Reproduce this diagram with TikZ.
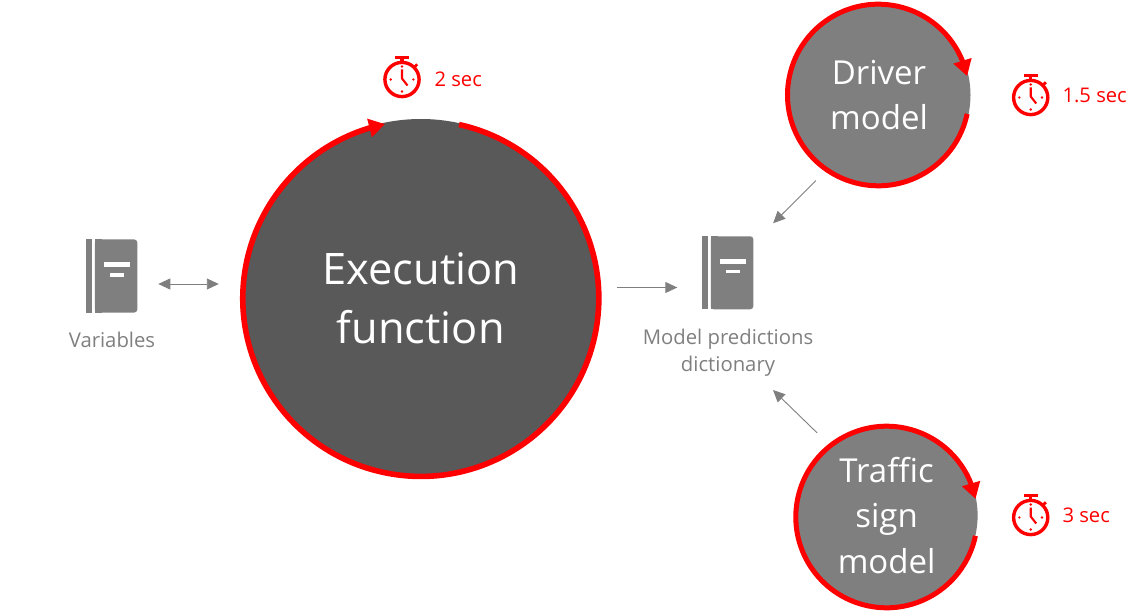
\documentclass[tikz,border=0pt]{standalone}
\usepackage{fontspec}
\setmainfont{Open Sans}
\usetikzlibrary{arrows.meta,bending,calc}
\definecolor{midgray}{HTML}{7F7F7F}
\definecolor{darkgray}{HTML}{595959}
\definecolor{timered}{HTML}{FF0000}
\tikzset{
  x=1pt,y=-1pt,
  model/.style={circle,fill=midgray,text=white,inner sep=0pt,outer sep=0pt,align=center,font=\fontsize{33}{45.5}\selectfont},
  execmodel/.style={model,fill=darkgray,font=\fontsize{43.4}{59}\selectfont},
  ring/.style={draw=timered,line width=5pt,-{Triangle[length=16pt,width=18pt,flex=1]}},
  conn/.style={draw=midgray,line width=0.9pt,-{Triangle[length=12pt,width=11pt]}},
  connboth/.style={conn,{Triangle[length=12pt,width=11pt]}-{Triangle[length=12pt,width=11pt]}},
  bookbox/.style={rectangle,minimum width=51pt,minimum height=73pt,inner sep=0pt,outer sep=0pt},
  lbl/.style={text=midgray,align=center,font=\fontsize{20.3}{27}\selectfont},
  timelbl/.style={text=timered,anchor=west,font=\fontsize{20.2}{24}\selectfont},
  book/.pic={
    \fill[midgray] (-25.5,-36.5) rectangle (-20,36.5);
    \fill[midgray,rounded corners=3pt] (-17,-36.5) -- (25.5,-36.5) -- (25.5,36.5) -- (-17,36.5) -- cycle;
    \fill[midgray] (-17,-36.5) rectangle (-10,36.5);
    \fill[white] (-8,-14) rectangle (18,-9);
    \fill[white] (-1.5,-3) rectangle (12.5,0.5);
  },
  stopwatch/.pic={
    \draw[timered,line width=3.4pt] (0,0) circle[radius=17.1];
    \fill[timered] (-7,-23.8) rectangle (7,-20.2);
    \fill[timered] (-1.6,-21) rectangle (1.6,-17);
    \draw[timered,line width=2.8pt] (12.5,-12.5) -- (15.2,-15.2);
    \draw[timered,line width=2.1pt,line join=round] (0,-10) -- (0,-1) -- (5.5,6);
    \foreach \p in {(0,-13),(11.3,0),(0,12),(-11.3,0)} \fill[timered] \p circle[radius=1.3];
  }
}
\begin{document}
\begin{tikzpicture}
\useasboundingbox (0,0) rectangle (1142,612);
% model circles
\node[execmodel,minimum size=358pt] (ex) at (420.8,298) {Execution\\function};
\node[model,minimum size=183pt] (driver) at (879,95) {Driver\\model};
\node[model,minimum size=182pt] (traffic) at (886.6,515.5) {Traffic\\sign\\model};
% timer rings
\coordinate (exc) at (420.8,298.4);
\coordinate (drc) at (878.3,95);
\coordinate (trc) at (886.6,517);
\draw[ring,line width=5.6pt] ($(exc)+(77.6:178pt)$) arc[start angle=77.6,end angle=-258.4,radius=178pt];
\draw[ring] ($(drc)+(-12:90.8pt)$) arc[start angle=-12,end angle=-348,radius=90.8pt];
\draw[ring] ($(trc)+(-12:90.8pt)$) arc[start angle=-12,end angle=-348.5,radius=90.8pt];
% dictionaries
\node[bookbox] (varbook) at (111.8,276) {};
\pic at (varbook.center) {book};
\node[bookbox] (dict) at (727.8,272.8) {};
\pic at (dict.center) {book};
\node[lbl] (varlabel) at (112,339.5) {Variables};
\node[lbl] (dictlabel) at (728,353) {Model predictions\\dictionary};
% stopwatches
\pic at (402,79.5) {stopwatch};
\pic at (1030.7,97.5) {stopwatch};
\pic at (1030.7,517.5) {stopwatch};
\node[timelbl] (t1) at (431,79.5) {2 sec};
\node[timelbl] (t2) at (1059,95.5) {1.5 sec};
\node[timelbl] (t3) at (1059,515.5) {3 sec};
% connectors
\coordinate (va) at (varbook.east |- 0,284);
\coordinate (vb) at (ex.west |- 0,284);
\draw[connboth,shorten <=21pt,shorten >=23pt] (va) -- (vb);
\coordinate (ea) at (ex.east |- 0,287.5);
\coordinate (da) at (dict.west |- 0,287.5);
\draw[conn,shorten <=17pt,shorten >=25pt] (ea) -- (da);
\coordinate (db) at (dict.east |- 0,243);
\draw[conn,shorten <=15pt,shorten >=28pt] (driver.235.8) -- (db);
\coordinate (dc) at (773,390);
\draw[conn,shorten <=17pt] (traffic.129.1) -- (dc);
\end{tikzpicture}
\end{document}
